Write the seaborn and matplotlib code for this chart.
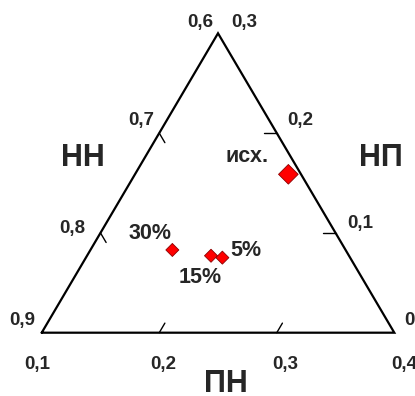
import numpy as np
import pandas as pd
import matplotlib
matplotlib.use("Agg")
import matplotlib.pyplot as plt
import seaborn as sns

# состав образцов: доли ПН и НП, НН = 1 - ПН - НП
samples = ["исх.", "30%", "15%", "5%"]
pn_vals = [0.2305, 0.1697, 0.2055, 0.2161]
np_vals = [0.1587, 0.0829, 0.0771, 0.0752]

# шкалы на сторонах треугольника
pn_ticks = [0.1, 0.2, 0.3, 0.4]
nn_ticks = [0.9, 0.8, 0.7, 0.6]
np_ticks = [0.0, 0.1, 0.2, 0.3]

PN0, SPAN = 0.1, 0.3
H = np.sqrt(3) / 2


def to_xy(pn, npv):
    pn = np.asarray(pn, dtype=float)
    npv = np.asarray(npv, dtype=float)
    x = (pn - PN0) / SPAN + 0.5 * npv / SPAN
    y = npv / SPAN * H
    return x, y


def fmt(v):
    if v == 0:
        return "0"
    return ("%.1f" % v).replace(".", ",")


sns.set_style("white")
plt.rcParams['font.family'] = ['Liberation Sans', 'DejaVu Sans']
plt.rcParams['font.weight'] = 'bold'

fig = plt.figure(figsize=(4.15, 3.96), dpi=100)
ax = fig.add_axes([0, 0, 1, 1])

# контур треугольника
cx, cy = to_xy([0.1, 0.4, 0.1, 0.1], [0.0, 0.0, 0.3, 0.0])
ax.plot(cx, cy, color="black", lw=1.6, solid_joinstyle="miter", zorder=1)

tl = 0.032
fs_tick = 13.5
# ПН - нижняя сторона
for v, dx in zip(pn_ticks, [-3, 3, 6, 7]):
    x, y = to_xy(v, 0.0)
    if 0.1 < v < 0.4:
        ax.plot([x, x + tl * 0.5], [y, y + tl * H], color="black", lw=1.0)
    ax.annotate(fmt(v), (x, y), xytext=(dx, -23), textcoords="offset points",
                ha="center", va="center", fontsize=fs_tick, fontweight="bold")
# НН - левая сторона
for v, off in zip(nn_ticks, [(-14, 9), (-20, 3), (-13, 9), (-13, 8)]):
    x, y = to_xy(0.1, 0.9 - v)
    if 0.6 < v < 0.9:
        ax.plot([x, x + tl * 0.5], [y, y - tl * H], color="black", lw=1.0)
    ax.annotate(fmt(v), (x, y), xytext=off, textcoords="offset points",
                ha="center", va="center", fontsize=fs_tick, fontweight="bold")
# НП - правая сторона
for v, off in zip(np_ticks, [(11, 9), (18, 7), (17, 9), (19, 8)]):
    x, y = to_xy(0.4 - v, v)
    if 0.0 < v < 0.3:
        ax.plot([x, x - tl * 1.1], [y, y], color="black", lw=1.0)
    ax.annotate(fmt(v), (x, y), xytext=off, textcoords="offset points",
                ha="center", va="center", fontsize=fs_tick, fontweight="bold")

# названия осей
ax.text(0.116, 0.506, "НН", ha="center", va="center", fontsize=22, fontweight="bold")
ax.text(0.962, 0.506, "НП", ha="center", va="center", fontsize=22, fontweight="bold")
ax.text(0.523, -0.171, "ПН", ha="center", va="baseline", fontsize=22, fontweight="bold")

# точки
px, py = to_xy(pn_vals, np_vals)
df = pd.DataFrame({"x": px, "y": py, "sample": samples,
                   "kind": ["big" if s == "исх." else "small" for s in samples]})
sns.scatterplot(data=df, x="x", y="y", size="kind", sizes={"big": 100, "small": 44},
                marker="D", color="#ff0000", edgecolor="#8b0000", linewidth=0.6,
                legend=False, ax=ax, zorder=3)
ax.set_xlim(-0.1183, 1.0587)
ax.set_ylim(-0.1831, 0.9623)
ax.axis("off")

label_off = {"исх.": (-30, 13), "30%": (-16, 12), "15%": (-8, -16), "5%": (17, 5)}
for s, x, y in zip(samples, px, py):
    ax.annotate(s, (x, y), xytext=label_off[s], textcoords="offset points",
                ha="center", va="center", fontsize=15.5, fontweight="bold")

fig.savefig("out.png", dpi=100)
